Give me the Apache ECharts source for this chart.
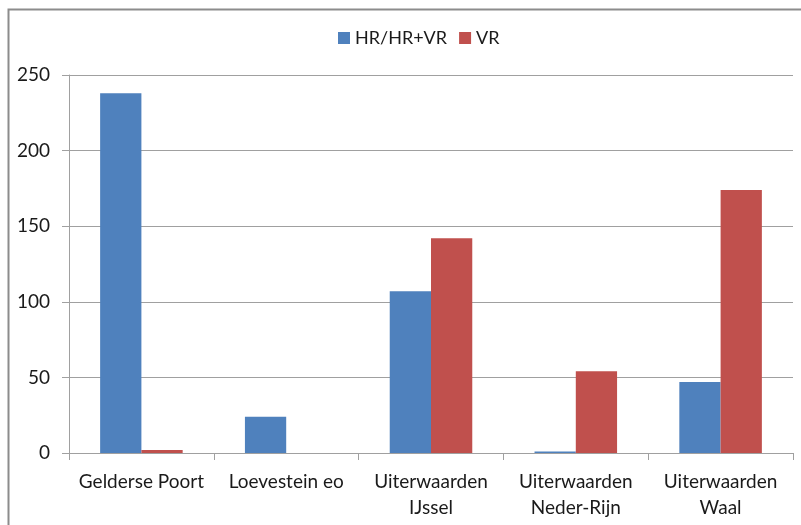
<!DOCTYPE html>
<html lang="nl">
<head>
    <meta charset="UTF-8">
    <title>Chart</title>
    <script src="https://cdn.jsdelivr.net/npm/echarts@6/dist/echarts.min.js"></script>
    <style>
        html, body { margin: 0; padding: 0; background: #fff; }
        #container { width: 801px; height: 525px; }
    </style>
</head>
<body>
<div id="container"></div>
<script>
    // data
    var categories = ['Gelderse Poort', 'Loevestein eo', 'Uiterwaarden\nIJssel', 'Uiterwaarden\nNeder-Rijn', 'Uiterwaarden\nWaal'];
    var hrValues = [238, 24, 107, 1, 47];
    var vrValues = [2, 0, 142, 54, 174];
    var seriesNames = ['HR/HR+VR', 'VR'];

    var myChart = echarts.init(document.getElementById('container'));
    var font = 'Lato, "Open Sans", sans-serif';

    var option = {
        animation: false,
        color: ['#4F81BD', '#C0504D'],
        graphic: [{
            type: 'rect',
            left: 6,
            top: 7,
            shape: { width: 900, height: 600 },
            style: { fill: 'none', stroke: '#8c8c8c', lineWidth: 2 },
            silent: true
        }],
        legend: {
            top: 24,
            left: 333,
            itemWidth: 12,
            itemHeight: 12,
            itemGap: 12,
            icon: 'rect',
            textStyle: { fontFamily: font, fontSize: 18, color: '#1a1a1a' },
            data: seriesNames
        },
        grid: {
            left: 69,
            right: 8,
            top: 75,
            bottom: 72,
            containLabel: false
        },
        xAxis: {
            type: 'category',
            data: categories,
            axisLine: { lineStyle: { color: '#a0a0a0', width: 1 } },
            axisTick: { show: true, alignWithLabel: false, length: 7, lineStyle: { color: '#a0a0a0' } },
            axisLabel: {
                interval: 0,
                margin: 16,
                fontFamily: font,
                fontSize: 19,
                lineHeight: 26,
                color: '#1a1a1a'
            },
            splitLine: { show: false }
        },
        yAxis: {
            type: 'value',
            min: 0,
            max: 250,
            interval: 50,
            axisLine: { show: true, lineStyle: { color: '#a0a0a0', width: 1 } },
            axisTick: { show: true, length: 7, lineStyle: { color: '#a0a0a0' } },
            axisLabel: {
                margin: 19,
                fontFamily: font,
                fontSize: 19,
                color: '#1a1a1a'
            },
            splitLine: { show: true, lineStyle: { color: '#a0a0a0', width: 1 } }
        },
        series: [
            {
                name: seriesNames[0],
                type: 'bar',
                data: hrValues,
                barGap: '0%',
                barCategoryGap: '43%'
            },
            {
                name: seriesNames[1],
                type: 'bar',
                data: vrValues,
                barGap: '0%',
                barCategoryGap: '43%'
            }
        ]
    };
    myChart.setOption(option, true);
</script>
</body>
</html>
